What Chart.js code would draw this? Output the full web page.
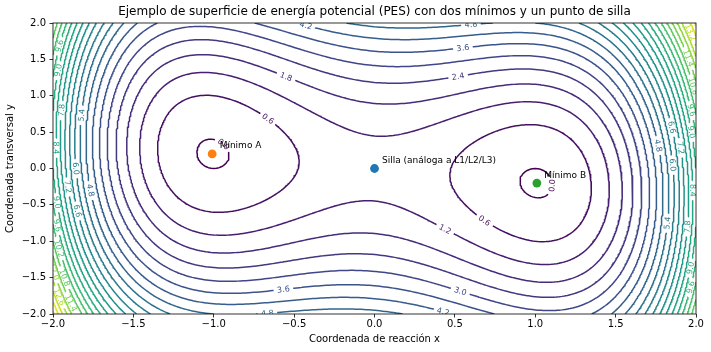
<!DOCTYPE html>
<html><head><meta charset="utf-8">
<script src="https://cdn.jsdelivr.net/npm/chart.js@4/dist/chart.umd.min.js"></script>
<style>html,body{margin:0;padding:0;background:#fff;}canvas{display:block;}</style>
</head><body>
<canvas id="c" width="711" height="352"></canvas>
<script>
// ---------------- data ----------------
const titleText = 'Ejemplo de superficie de energía potencial (PES) con dos mínimos y un punto de silla';
const xAxisLabel = 'Coordenada de reacción x';
const yAxisLabel = 'Coordenada transversal y';
const xTicks = [-2.0, -1.5, -1.0, -0.5, 0.0, 0.5, 1.0, 1.5, 2.0];
const yTicks = [-2.0, -1.5, -1.0, -0.5, 0.0, 0.5, 1.0, 1.5, 2.0];
const contourLevels = [0.0, 0.6, 1.2, 1.8, 2.4, 3.0, 3.6, 4.2, 4.8, 5.4, 6.0, 6.6, 7.2, 7.8, 8.4, 9.0, 9.6, 10.2, 10.8, 11.4, 12.0, 12.6, 13.2, 13.8, 14.4];
// PES model V(x,y) = a*(x^2-1)^2 + b*y^2 + c*x*y  (coefficients a, b, c)
const pesCoefficients = [1.0, 1.0, 0.4];
const gridRange = [-2.0, 2.0];
const gridCount = 241;
const pointNames = ['Silla (análoga a L1/L2/L3)', 'Mínimo A', 'Mínimo B'];
const pointX = [0.0, -1.01, 1.01];
const pointY = [0.0, 0.20, -0.20];
// contour label anchors (level, x, y); null level = nearest line
const labelLevels = [4.2, 1.8, 0.6, 0.0, 4.8, 3.6, 2.4, 3.6, 4.8, 0.0, 0.6, 1.2, 3.0, 4.2,
  9.6, 9.0, 7.8, 5.4, 8.4, 6.0, 7.2, 4.8, 9.0, 6.6, 9.6, 10.2, 10.8, 12.0, 12.6, 11.4,
  null, null, null, 9.6, 9.0, 6.6, 7.2, 4.8, 6.0, 8.4, 5.4, 7.8, 9.0, 9.6];
const labelX = [-0.43, -0.55, -0.66, -0.93, 0.607, 0.55, 0.52, -0.569, -0.675, 1.104, 0.687, 0.44, 0.538, 0.426,
  -1.975, -1.98, -1.956, -1.83, -1.975, -1.857, -1.913, -1.764, -1.98, -1.838, -1.97, -1.944, -1.913, -1.988, -1.956, -1.876,
  1.975, 1.963, 1.975, 1.975, 1.975, 1.85, 1.913, 1.776, 1.857, 1.981, 1.82, 1.944, 1.963, 1.975];
const labelY = [1.97, 1.27, 0.69, 0.36, 1.99, 1.67, 1.27, -1.64, -1.96, -0.227, -0.72, -0.82, -1.68, -1.94,
  1.70, 1.35, 0.80, 0.735, 0.28, 0.0, -0.25, -0.30, -0.47, -0.57, -0.78, -1.08, -1.49, -1.42, -1.77, -1.84,
  1.88, 1.53, 1.12, 0.80, 0.50, 0.57, 0.28, 0.32, 0.05, -0.30, -0.75, -0.80, -1.37, -1.64];

// ---------------- styles ----------------
const FONT = "'DejaVu Sans', sans-serif";
const pointColors = ['#1f77b4', '#ff7f0e', '#2ca02c'];
const viridisStops = ['#440154', '#482475', '#414487', '#355f8d', '#2a788e', '#21918c', '#22a884', '#44bf70', '#7ad151', '#bddf26', '#fde725'];
const labelFontSize = 8;
const labelGap = 3.5;

function hexToRgb(h) { return [parseInt(h.slice(1, 3), 16), parseInt(h.slice(3, 5), 16), parseInt(h.slice(5, 7), 16)]; }
function viridis(t) {
  t = Math.max(0, Math.min(1, t));
  const f = t * (viridisStops.length - 1);
  const i = Math.min(Math.floor(f), viridisStops.length - 2);
  const u = f - i;
  const a = hexToRgb(viridisStops[i]), b = hexToRgb(viridisStops[i + 1]);
  return 'rgb(' + a.map((v, k) => Math.round(v + (b[k] - v) * u)).join(',') + ')';
}
const lvMin = contourLevels[0], lvMax = contourLevels[contourLevels.length - 1];
const levelColors = contourLevels.map(l => viridis((l - lvMin) / (lvMax - lvMin)));

// ---------------- PES grid + marching squares ----------------
function pes(x, y) {
  const [a, b, c] = pesCoefficients;
  return a * Math.pow(x * x - 1, 2) + b * y * y + c * x * y;
}
const n = gridCount;
const gx = new Float64Array(n), gy = new Float64Array(n);
for (let i = 0; i < n; i++) {
  gx[i] = gridRange[0] + (gridRange[1] - gridRange[0]) * i / (n - 1);
  gy[i] = gridRange[0] + (gridRange[1] - gridRange[0]) * i / (n - 1);
}
const G = new Float64Array(n * n);
for (let j = 0; j < n; j++) for (let i = 0; i < n; i++) G[j * n + i] = pes(gx[i], gy[j]);

function contourLevel(L) {
  const pts = new Map();
  const segA = [], segB = [];
  function ek(type, i, j) {
    const key = (j * n + i) * 2 + type;
    if (!pts.has(key)) {
      let x, y;
      if (type === 0) {
        const a = G[j * n + i], b = G[j * n + i + 1], t = (L - a) / (b - a);
        x = gx[i] + t * (gx[i + 1] - gx[i]); y = gy[j];
      } else {
        const a = G[j * n + i], b = G[(j + 1) * n + i], t = (L - a) / (b - a);
        x = gx[i]; y = gy[j] + t * (gy[j + 1] - gy[j]);
      }
      pts.set(key, [x, y]);
    }
    return key;
  }
  for (let j = 0; j < n - 1; j++) for (let i = 0; i < n - 1; i++) {
    const a = G[j * n + i], b = G[j * n + i + 1], c = G[(j + 1) * n + i + 1], d = G[(j + 1) * n + i];
    const idx = (a >= L ? 1 : 0) | (b >= L ? 2 : 0) | (c >= L ? 4 : 0) | (d >= L ? 8 : 0);
    if (idx === 0 || idx === 15) continue;
    const B = () => ek(0, i, j), R = () => ek(1, i + 1, j), T = () => ek(0, i, j + 1), Lf = () => ek(1, i, j);
    const add = (p, q) => { segA.push(p); segB.push(q); };
    switch (idx) {
      case 1: case 14: add(Lf(), B()); break;
      case 2: case 13: add(B(), R()); break;
      case 3: case 12: add(Lf(), R()); break;
      case 4: case 11: add(R(), T()); break;
      case 6: case 9: add(B(), T()); break;
      case 7: case 8: add(Lf(), T()); break;
      case 5: { const cen = (a + b + c + d) / 4; if (cen >= L) { add(B(), R()); add(T(), Lf()); } else { add(Lf(), B()); add(R(), T()); } break; }
      case 10: { const cen = (a + b + c + d) / 4; if (cen >= L) { add(Lf(), B()); add(R(), T()); } else { add(B(), R()); add(T(), Lf()); } break; }
    }
  }
  const adj = new Map();
  for (let s = 0; s < segA.length; s++) {
    for (const k of [segA[s], segB[s]]) { if (!adj.has(k)) adj.set(k, []); adj.get(k).push(s); }
  }
  const used = new Uint8Array(segA.length);
  const lines = [];
  const walk = (startKey) => {
    const line = [pts.get(startKey)];
    let k = startKey;
    while (true) {
      const list = adj.get(k); let next = -1;
      for (const s of list) if (!used[s]) { next = s; break; }
      if (next < 0) break;
      used[next] = 1;
      k = segA[next] === k ? segB[next] : segA[next];
      line.push(pts.get(k));
    }
    return line;
  };
  for (const [k, list] of adj) if (list.length === 1 && !used[list[0]]) lines.push(walk(k));
  for (let s = 0; s < segA.length; s++) if (!used[s]) lines.push(walk(segA[s]));
  return lines.filter(l => l.length > 1);
}
const contourLines = contourLevels.map(contourLevel);

function flatten(polys) {
  const out = [];
  polys.forEach((p, k) => {
    if (k > 0) out.push({ x: NaN, y: NaN });
    for (const q of p) out.push({ x: q.x !== undefined ? q.x : q[0], y: q.y !== undefined ? q.y : q[1] });
  });
  return out;
}

// ---------------- chart ----------------
const fmtTick = v => (v < 0 ? '\u2212' : '') + Math.abs(v).toFixed(1);
let placedLabels = [];

const overlayPlugin = {
  id: 'overlay',
  afterDatasetsDraw(chart) {
    const { ctx, chartArea: ca } = chart;
    const sx = chart.scales.x, sy = chart.scales.y;
    ctx.save();
    ctx.beginPath(); ctx.rect(ca.left, ca.top, ca.right - ca.left, ca.bottom - ca.top); ctx.clip();
    ctx.font = labelFontSize + 'px ' + FONT;
    ctx.textAlign = 'center'; ctx.textBaseline = 'middle';
    for (const l of placedLabels) {
      ctx.save();
      ctx.translate(sx.getPixelForValue(l.x), sy.getPixelForValue(l.y));
      ctx.rotate(l.ang);
      ctx.fillStyle = l.color;
      ctx.fillText(l.text, 0, 0.5);
      ctx.restore();
    }
    ctx.restore();
    // annotations
    ctx.save();
    ctx.font = '9px ' + FONT;
    ctx.fillStyle = '#000'; ctx.textAlign = 'left'; ctx.textBaseline = 'alphabetic';
    for (let i = 0; i < pointNames.length; i++) {
      ctx.fillText(pointNames[i], sx.getPixelForValue(pointX[i]) + 7.5, sy.getPixelForValue(pointY[i]) - 5.5);
    }
    ctx.restore();
  },
  afterDraw(chart) {
    const { ctx, chartArea: ca } = chart;
    ctx.save();
    ctx.strokeStyle = '#000'; ctx.lineWidth = 0.8;
    ctx.strokeRect(ca.left, ca.top, ca.right - ca.left, ca.bottom - ca.top);
    ctx.restore();
  }
};

const datasets = [];
for (let i = 0; i < pointNames.length; i++) {
  datasets.push({
    label: pointNames[i], data: [{ x: pointX[i], y: pointY[i] }], order: 0,
    pointRadius: 4.4, pointBackgroundColor: pointColors[i], pointBorderWidth: 0, showLine: false
  });
}
contourLevels.forEach((lv, li) => {
  datasets.push({
    label: 'V=' + lv.toFixed(1), data: [], order: 1, showLine: true, pointRadius: 0, pointHitRadius: 0,
    borderColor: levelColors[li], borderWidth: 1.5, clip: 0, spanGaps: false, borderJoinStyle: 'round'
  });
});

const axisCommon = (ticksArr, label) => ({
  type: 'linear', min: -2, max: 2,
  afterBuildTicks: s => { s.ticks = ticksArr.map(v => ({ value: v })); },
  ticks: { callback: fmtTick, color: '#000', font: { family: FONT, size: 10 }, padding: 3.5, maxRotation: 0, autoSkip: false },
  grid: { drawOnChartArea: false, drawTicks: true, tickLength: 3.5, tickColor: '#000', tickWidth: 0.8 },
  border: { display: false },
  title: { display: true, text: label, color: '#000', font: { family: FONT, size: 10, lineHeight: 1.2 } }
});
const xAxis = axisCommon(xTicks, xAxisLabel);
xAxis.afterFit = s => { s.height = 38; };
xAxis.ticks.padding = 0.5;
xAxis.title.padding = { top: 0, bottom: 7 };
const yAxis = axisCommon(yTicks, yAxisLabel);
yAxis.afterFit = s => { s.width = 53; };
yAxis.title.padding = { top: 4, bottom: 0 };

const chart = new Chart(document.getElementById('c').getContext('2d'), {
  type: 'scatter',
  data: { datasets },
  options: {
    responsive: false, animation: false, devicePixelRatio: 1, events: [],
    layout: { padding: { left: 0, right: 15, top: 0, bottom: 0 } },
    plugins: {
      legend: { display: false }, tooltip: { enabled: false },
      title: { display: true, fullSize: false, text: titleText, color: '#000', font: { family: FONT, size: 12, weight: 'normal', lineHeight: 1.2 }, padding: { top: 4.6, bottom: 4 } }
    },
    scales: { x: xAxis, y: yAxis }
  },
  plugins: [overlayPlugin]
});

// ---------------- inline contour labels (cut lines) ----------------
(function placeLabels() {
  const sx = chart.scales.x, sy = chart.scales.y;
  const ctx = chart.ctx;
  ctx.save(); ctx.font = labelFontSize + 'px ' + FONT;
  const toP = p => ({ x: p[0], y: p[1], px: sx.getPixelForValue(p[0]), py: sy.getPixelForValue(p[1]) });
  const Ls = contourLines.map(lines => lines.map(l => l.map(toP)));
  const lerp = (p, q, u) => ({ x: p.x + (q.x - p.x) * u, y: p.y + (q.y - p.y) * u, px: p.px + (q.px - p.px) * u, py: p.py + (q.py - p.py) * u });
  const out = [];
  for (let a = 0; a < labelLevels.length; a++) {
    const ax = sx.getPixelForValue(labelX[a]), ay = sy.getPixelForValue(labelY[a]);
    let lvls;
    if (labelLevels[a] === null) lvls = Ls.map((_, i) => i);
    else lvls = [contourLevels.findIndex(v => Math.abs(v - labelLevels[a]) < 1e-9)];
    let best = null, bd = Infinity;
    for (const li of lvls) {
      if (li < 0) continue;
      Ls[li].forEach((poly, pi) => poly.forEach((p, vi) => {
        const d = (p.px - ax) ** 2 + (p.py - ay) ** 2;
        if (d < bd) { bd = d; best = { li, pi, vi }; }
      }));
    }
    if (!best || bd > 400) continue;
    const poly = Ls[best.li][best.pi];
    const text = contourLevels[best.li].toFixed(1);
    const w = ctx.measureText(text).width;
    const half = w / 2 + labelGap;
    const last = poly[poly.length - 1];
    const closed = poly.length > 3 && Math.hypot(poly[0].px - last.px, poly[0].py - last.py) < 1e-6;
    let P = poly;
    if (closed) P = poly.slice(best.vi, poly.length - 1).concat(poly.slice(0, best.vi + 1));
    const S = [0];
    for (let i = 1; i < P.length; i++) S.push(S[i - 1] + Math.hypot(P[i].px - P[i - 1].px, P[i].py - P[i - 1].py));
    const tot = S[S.length - 1];
    const at = t => {
      t = Math.max(0, Math.min(tot, t));
      let i = 1; while (i < S.length - 1 && S[i] < t) i++;
      const seg = S[i] - S[i - 1];
      return lerp(P[i - 1], P[i], seg > 0 ? (t - S[i - 1]) / seg : 0);
    };
    const sub = (s1, s2) => { const r = [at(s1)]; for (let i = 0; i < P.length; i++) if (S[i] > s1 && S[i] < s2) r.push(P[i]); r.push(at(s2)); return r; };
    const s0 = closed ? 0 : S[best.vi];
    let A, Bp;
    if (closed) { A = at(tot - w / 2); Bp = at(w / 2); }
    else { A = at(s0 - w / 2); Bp = at(s0 + w / 2); }
    let ang = Math.atan2(Bp.py - A.py, Bp.px - A.px);
    if (ang > Math.PI / 2) ang -= Math.PI;
    if (ang < -Math.PI / 2) ang += Math.PI;
    const c = closed ? P[0] : P[best.vi];
    out.push({ text, x: c.x, y: c.y, ang, color: levelColors[best.li] });
    const pieces = [];
    if (closed) { if (tot > 2 * half) pieces.push(sub(half, tot - half)); }
    else {
      if (s0 - half > 0) pieces.push(sub(0, s0 - half));
      if (s0 + half < tot) pieces.push(sub(s0 + half, tot));
    }
    Ls[best.li].splice(best.pi, 1, ...pieces.filter(p => p.length > 1));
  }
  ctx.restore();
  placedLabels = out;
  Ls.forEach((polys, li) => { chart.data.datasets[pointNames.length + li].data = flatten(polys); });
  chart.update('none');
})();
</script>
</body></html>
